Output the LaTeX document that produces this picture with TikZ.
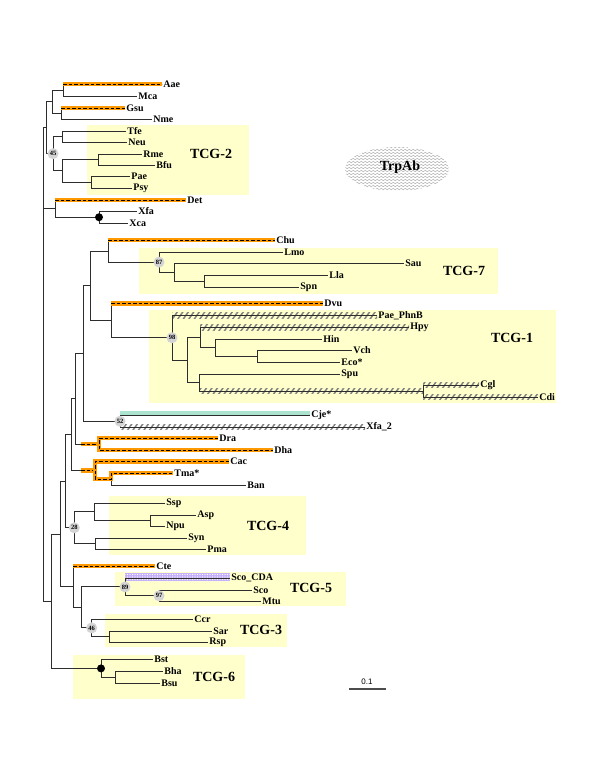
\documentclass[tikz,border=0pt]{standalone}
\usepackage{fontspec}
\setmainfont{Liberation Serif}
\newfontfamily\barfont{Liberation Sans}
\usetikzlibrary{patterns.meta,decorations.pathmorphing}
\definecolor{boxyellow}{RGB}{255,255,204}
\definecolor{hiorange}{RGB}{255,153,0}
\definecolor{himint}{RGB}{172,228,208}
\definecolor{hililac}{RGB}{196,176,250}
\definecolor{branchgray}{RGB}{45,45,45}

\begin{document}
\begin{tikzpicture}[x=1pt,y=-1pt]
\tikzset{
  leaf/.style={anchor=west,inner sep=1.2pt,font=\bfseries\fontsize{10}{11}\selectfont},
  branch/.style={draw=branchgray,line width=0.9pt},
  groupbox/.style={fill=boxyellow,draw=none},
  grouplabel/.style={font=\bfseries\fontsize{14}{15}\selectfont},
  support/.style={circle,fill=black!17,inner sep=0pt,minimum size=11pt,font=\bfseries\fontsize{6.5}{7}\selectfont},
  blackdot/.style={circle,fill=black,inner sep=0pt,minimum size=8pt},
  hilite/.style={draw=black,line width=1pt,dash pattern=on 3.5pt off 2pt,
    preaction={draw=hiorange,line width=4.5pt,solid}},
  hatchband/.style={pattern={Lines[angle=55,distance=4.5pt,line width=1.5pt]},pattern color=black!50},
  mintband/.style={fill=himint},
  lilacband/.style={fill=hililac,postaction={pattern={Dots[distance=2.5pt,radius=0.6pt]},pattern color=white}},
  wavy/.style={draw=black!35,line width=0.4pt,decorate,decoration={snake,amplitude=0.8pt,segment length=4pt}}
}
\fill[white] (0,0) rectangle (600,777);
\useasboundingbox (0,0) rectangle (600,777);

\fill[groupbox] (87,125) rectangle (249,195);
\fill[groupbox] (139,247.7) rectangle (498,294);
\fill[groupbox] (149,310) rectangle (556,402.7);
\fill[groupbox] (109,496) rectangle (306,555);
\fill[groupbox] (115,572) rectangle (346,606);
\fill[groupbox] (105,614) rectangle (287,647);
\fill[groupbox] (73,655) rectangle (245,699);
\node[grouplabel] (n_TCG2) at (211,154) {TCG-2};
\node[grouplabel] (n_TCG7) at (464,271) {TCG-7};
\node[grouplabel] (n_TCG1) at (512,338) {TCG-1};
\node[grouplabel] (n_TCG4) at (268,526) {TCG-4};
\node[grouplabel] (n_TCG5) at (311,588) {TCG-5};
\node[grouplabel] (n_TCG3) at (261,630) {TCG-3};
\node[grouplabel] (n_TCG6) at (214,677) {TCG-6};

\begin{scope}
\clip (397,169) ellipse [x radius=52, y radius=22];
\foreach \k in {0,...,16} \draw[wavy] (340,144+3*\k) -- (455,144+3*\k);
\end{scope}
\node[grouplabel] (n_TrpAb) at (400,167) {TrpAb};

\node[leaf] (n_Aae) at (162,84) {Aae};
\node[leaf] (n_Mca) at (137,96) {Mca};
\node[leaf] (n_Gsu) at (125,108) {Gsu};
\node[leaf] (n_Nme) at (152,119.5) {Nme};
\node[leaf] (n_Tfe) at (126,131) {Tfe};
\node[leaf] (n_Neu) at (127,142) {Neu};
\node[leaf] (n_Rme) at (142,154) {Rme};
\node[leaf] (n_Bfu) at (155,165) {Bfu};
\node[leaf] (n_Pae) at (130,176.5) {Pae};
\node[leaf] (n_Psy) at (132,188) {Psy};
\node[leaf] (n_Det) at (186,200) {Det};
\node[leaf] (n_Xfa) at (137,211.5) {Xfa};
\node[leaf] (n_Xca) at (128,223) {Xca};
\node[leaf] (n_Chu) at (275,240) {Chu};
\node[leaf] (n_Lmo) at (283,252) {Lmo};
\node[leaf] (n_Sau) at (404,263.5) {Sau};
\node[leaf] (n_Lla) at (328,275) {Lla};
\node[leaf] (n_Spn) at (299,287) {Spn};
\node[leaf] (n_Dvu) at (323,303.5) {Dvu};
\node[leaf] (n_PaePhnB) at (377,315.5) {Pae\_PhnB};
\node[leaf] (n_Hpy) at (409,327.5) {Hpy};
\node[leaf] (n_Hin) at (322,339) {Hin};
\node[leaf] (n_Vch) at (352,350) {Vch};
\node[leaf] (n_Eco) at (340,362) {Eco*};
\node[leaf] (n_Spu) at (340,374) {Spu};
\node[leaf] (n_Cgl) at (479,385) {Cgl};
\node[leaf] (n_Cdi) at (538,397) {Cdi};
\node[leaf] (n_Cje) at (310,415.5) {Cje*};
\node[leaf] (n_Xfa2) at (365,427) {Xfa\_2};
\node[leaf] (n_Dra) at (218,438) {Dra};
\node[leaf] (n_Dha) at (273,450) {Dha};
\node[leaf] (n_Cac) at (229,461.5) {Cac};
\node[leaf] (n_Tma) at (173,473) {Tma*};
\node[leaf] (n_Ban) at (246,485) {Ban};
\node[leaf] (n_Ssp) at (165,503) {Ssp};
\node[leaf] (n_Asp) at (196,515) {Asp};
\node[leaf] (n_Npu) at (165,526.5) {Npu};
\node[leaf] (n_Syn) at (187,538) {Syn};
\node[leaf] (n_Pma) at (206,549.5) {Pma};
\node[leaf] (n_Cte) at (155,566) {Cte};
\node[leaf] (n_ScoCDA) at (230,578) {Sco\_CDA};
\node[leaf] (n_Sco) at (252,590) {Sco};
\node[leaf] (n_Mtu) at (261,601.5) {Mtu};
\node[leaf] (n_Ccr) at (193,619) {Ccr};
\node[leaf] (n_Sar) at (212,631) {Sar};
\node[leaf] (n_Rsp) at (208,642.5) {Rsp};
\node[leaf] (n_Bst) at (153,659.5) {Bst};
\node[leaf] (n_Bha) at (163,671.5) {Bha};
\node[leaf] (n_Bsu) at (160,683) {Bsu};

\coordinate (n_AaeMca) at (63,90);
\coordinate (n_GsuNme) at (61,113.75);
\coordinate (n_AG) at (52,101.9);
\coordinate (n_TfeNeu) at (62,136.5);
\coordinate (n_RmeBfu) at (98,159.5);
\coordinate (n_PaePsy) at (91,182.25);
\coordinate (n_RP) at (62,170.9);
\coordinate (n_45) at (53,153.7);
\coordinate (n_top) at (46,127.8);
\coordinate (n_XfaXca) at (99,217.25);
\coordinate (n_DetX) at (55,208.6);
\coordinate (n_root) at (43,364.5);
\coordinate (n_LlaSpn) at (204,281);
\coordinate (n_SauL) at (174,272.25);
\coordinate (n_87) at (159,262.1);
\coordinate (n_ChuT7) at (108,251);
\coordinate (n_VchEco) at (257,356);
\coordinate (n_HinV) at (215,347.5);
\coordinate (n_HpyH) at (200,337.5);
\coordinate (n_CglCdi) at (423,391);
\coordinate (n_SpuC) at (199,382.5);
\coordinate (n_HS) at (187.5,360);
\coordinate (n_98) at (172,337.75);
\coordinate (n_DvuT1) at (111,320.6);
\coordinate (n_CD) at (90,285.8);
\coordinate (n_52) at (120,421.25);
\coordinate (n_C52) at (83,353.5);
\coordinate (n_DraDha) at (99,444);
\coordinate (n_E) at (75.5,398.8);
\coordinate (n_TmaBan) at (111,479);
\coordinate (n_CacT) at (95,470.25);
\coordinate (n_F) at (71.7,434.5);
\coordinate (n_AspNpu) at (150,520.75);
\coordinate (n_SspA) at (94.3,511.9);
\coordinate (n_SynPma) at (95.7,543.75);
\coordinate (n_28) at (74.3,527.8);
\coordinate (n_G) at (65,481.2);
\coordinate (n_97) at (159,595.75);
\coordinate (n_89) at (125,586.9);
\coordinate (n_SarRsp) at (109,636.75);
\coordinate (n_46) at (91.7,627.9);
\coordinate (n_T53) at (81.7,607.4);
\coordinate (n_CteT) at (73.3,586.7);
\coordinate (n_I) at (60.7,534);
\coordinate (n_BhaBsu) at (115,677.25);
\coordinate (n_T6) at (101,668.4);
\coordinate (n_J) at (51.7,601.2);
\coordinate (o_DraDha) at (81,444);
\coordinate (o_CacT) at (81,470.25);

\fill[hatchband] (172,312.5) rectangle (377,318);
\fill[hatchband] (200,324.5) rectangle (409,330);
\fill[hatchband] (199,388) rectangle (423,393.5);
\fill[hatchband] (423,382) rectangle (479,387.5);
\fill[hatchband] (423,394) rectangle (538,399.5);
\fill[hatchband] (120,424) rectangle (365,429.5);
\fill[mintband] (120,410.5) rectangle (310,416);
\fill[lilacband] (125,573) rectangle (230,581);

\draw[branch] (n_root) |- (n_top);
\draw[branch] (n_root) |- (n_DetX);
\draw[branch] (n_root) |- (n_J);
\draw[branch] (n_top) |- (n_AG);
\draw[branch] (n_top) |- (n_45);
\draw[branch] (n_AG) |- (n_AaeMca);
\draw[branch] (n_AG) |- (n_GsuNme);
\draw[branch] (n_AaeMca) |- (n_Aae);
\draw[branch] (n_AaeMca) |- (n_Mca);
\draw[branch] (n_GsuNme) |- (n_Gsu);
\draw[branch] (n_GsuNme) |- (n_Nme);
\draw[branch] (n_45) |- (n_TfeNeu);
\draw[branch] (n_45) |- (n_RP);
\draw[branch] (n_TfeNeu) |- (n_Tfe);
\draw[branch] (n_TfeNeu) |- (n_Neu);
\draw[branch] (n_RP) |- (n_RmeBfu);
\draw[branch] (n_RP) |- (n_PaePsy);
\draw[branch] (n_RmeBfu) |- (n_Rme);
\draw[branch] (n_RmeBfu) |- (n_Bfu);
\draw[branch] (n_PaePsy) |- (n_Pae);
\draw[branch] (n_PaePsy) |- (n_Psy);
\draw[branch] (n_DetX) |- (n_Det);
\draw[branch] (n_DetX) |- (n_XfaXca);
\draw[branch] (n_XfaXca) |- (n_Xfa);
\draw[branch] (n_XfaXca) |- (n_Xca);
\draw[branch] (n_J) |- (n_I);
\draw[branch] (n_J) |- (n_T6);
\draw[branch] (n_I) |- (n_G);
\draw[branch] (n_I) |- (n_CteT);
\draw[branch] (n_G) |- (n_F);
\draw[branch] (n_G) |- (n_28);
\draw[branch] (n_F) |- (n_E);
\draw[branch] (n_F) |- (n_CacT);
\draw[branch] (n_E) |- (n_C52);
\draw[branch] (n_E) |- (n_DraDha);
\draw[branch] (n_C52) |- (n_CD);
\draw[branch] (n_C52) |- (n_52);
\draw[branch] (n_CD) |- (n_ChuT7);
\draw[branch] (n_CD) |- (n_DvuT1);
\draw[branch] (n_ChuT7) |- (n_Chu);
\draw[branch] (n_ChuT7) |- (n_87);
\draw[branch] (n_87) |- (n_Lmo);
\draw[branch] (n_87) |- (n_SauL);
\draw[branch] (n_SauL) |- (n_Sau);
\draw[branch] (n_SauL) |- (n_LlaSpn);
\draw[branch] (n_LlaSpn) |- (n_Lla);
\draw[branch] (n_LlaSpn) |- (n_Spn);
\draw[branch] (n_DvuT1) |- (n_Dvu);
\draw[branch] (n_DvuT1) |- (n_98);
\draw[branch] (n_98) |- (n_PaePhnB);
\draw[branch] (n_98) |- (n_HS);
\draw[branch] (n_HS) |- (n_HpyH);
\draw[branch] (n_HS) |- (n_SpuC);
\draw[branch] (n_HpyH) |- (n_Hpy);
\draw[branch] (n_HpyH) |- (n_HinV);
\draw[branch] (n_HinV) |- (n_Hin);
\draw[branch] (n_HinV) |- (n_VchEco);
\draw[branch] (n_VchEco) |- (n_Vch);
\draw[branch] (n_VchEco) |- (n_Eco);
\draw[branch] (n_SpuC) |- (n_Spu);
\draw[branch] (n_SpuC) |- (n_CglCdi);
\draw[branch] (n_CglCdi) |- (n_Cgl);
\draw[branch] (n_CglCdi) |- (n_Cdi);
\draw[branch] (n_52) |- (n_Cje);
\draw[branch] (n_52) |- (n_Xfa2);
\draw[branch] (n_DraDha) |- (n_Dra);
\draw[branch] (n_DraDha) |- (n_Dha);
\draw[branch] (n_CacT) |- (n_Cac);
\draw[branch] (n_CacT) |- (n_TmaBan);
\draw[branch] (n_TmaBan) |- (n_Tma);
\draw[branch] (n_TmaBan) |- (n_Ban);
\draw[branch] (n_28) |- (n_SspA);
\draw[branch] (n_28) |- (n_SynPma);
\draw[branch] (n_SspA) |- (n_Ssp);
\draw[branch] (n_SspA) |- (n_AspNpu);
\draw[branch] (n_AspNpu) |- (n_Asp);
\draw[branch] (n_AspNpu) |- (n_Npu);
\draw[branch] (n_SynPma) |- (n_Syn);
\draw[branch] (n_SynPma) |- (n_Pma);
\draw[branch] (n_CteT) |- (n_Cte);
\draw[branch] (n_CteT) |- (n_T53);
\draw[branch] (n_T53) |- (n_89);
\draw[branch] (n_T53) |- (n_46);
\draw[branch] (n_89) |- (n_ScoCDA);
\draw[branch] (n_89) |- (n_97);
\draw[branch] (n_97) |- (n_Sco);
\draw[branch] (n_97) |- (n_Mtu);
\draw[branch] (n_46) |- (n_Ccr);
\draw[branch] (n_46) |- (n_SarRsp);
\draw[branch] (n_SarRsp) |- (n_Sar);
\draw[branch] (n_SarRsp) |- (n_Rsp);
\draw[branch] (n_T6) |- (n_Bst);
\draw[branch] (n_T6) |- (n_BhaBsu);
\draw[branch] (n_BhaBsu) |- (n_Bha);
\draw[branch] (n_BhaBsu) |- (n_Bsu);

\draw[hilite] (n_AaeMca |- n_Aae) -- (n_Aae.west);
\draw[hilite] (n_GsuNme |- n_Gsu) -- (n_Gsu.west);
\draw[hilite] (n_DetX |- n_Det) -- (n_Det.west);
\draw[hilite] (n_ChuT7 |- n_Chu) -- (n_Chu.west);
\draw[hilite] (n_DvuT1 |- n_Dvu) -- (n_Dvu.west);
\draw[hilite] (n_CteT |- n_Cte) -- (n_Cte.west);
\draw[hilite] (o_DraDha) -- (n_DraDha);
\draw[hilite] (n_Dra.west) -| (n_DraDha |- n_Dha) -- (n_Dha.west);
\draw[hilite] (o_CacT) -- (n_CacT);
\draw[hilite] (n_Cac.west) -| (n_CacT |- n_TmaBan) -- (n_TmaBan) |- (n_Tma.west);

\node[support] (s_45) at (n_45) {45};
\node[support] (s_87) at (n_87) {87};
\node[support] (s_98) at (n_98) {98};
\node[support] (s_52) at (n_52) {52};
\node[support] (s_28) at (n_28) {28};
\node[support] (s_89) at (n_89) {89};
\node[support] (s_97) at (n_97) {97};
\node[support] (s_46) at (n_46) {46};
\node[blackdot] (d_XfaXca) at (n_XfaXca) {};
\node[blackdot] (d_T6) at (n_T6) {};

\coordinate (n_barL) at (349,689);
\coordinate (n_barR) at (386,689);
\draw[draw=black!70,line width=1.2pt] (n_barL) -- (n_barR);
\node[font=\barfont\fontsize{8}{9}\selectfont] (n_scale) at (367,682) {0.1};
\end{tikzpicture}
\end{document}
